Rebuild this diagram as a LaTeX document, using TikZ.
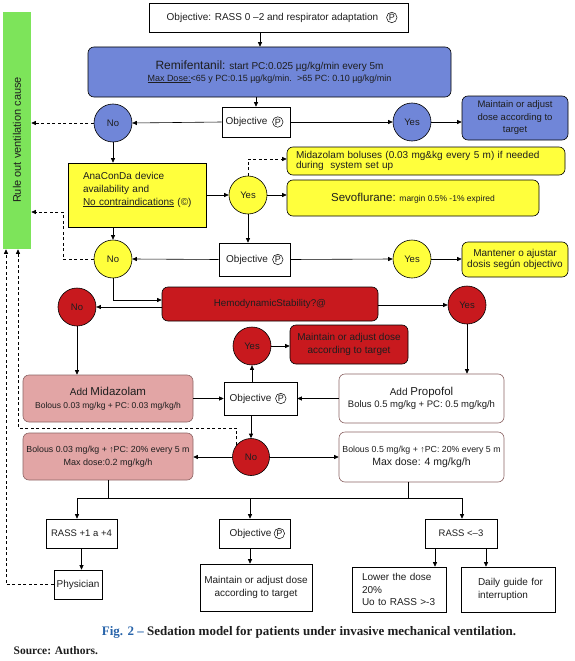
\documentclass[tikz,border=0pt]{standalone}
\usepackage{fontspec}
\usepackage{graphicx}
\setmainfont{Liberation Sans}
\newfontfamily\capfont{Liberation Serif}
\usetikzlibrary{arrows.meta,calc}
\definecolor{bluef}{RGB}{112,134,216}
\definecolor{yellowf}{RGB}{255,255,60}
\definecolor{redf}{RGB}{200,25,30}
\definecolor{pinkf}{RGB}{226,165,165}
\definecolor{greenf}{RGB}{125,228,90}
\definecolor{pinkbd}{RGB}{140,100,100}
\definecolor{figblue}{RGB}{40,100,170}
\definecolor{txt}{RGB}{30,30,30}
\begin{document}
\begin{tikzpicture}[x=1pt,y=-1pt,
 >={Triangle[length=4.5pt,width=4pt]},
 line width=0.6pt,
 arr/.style={->},
 dsh/.style={->,dash pattern=on 3pt off 2.5pt},
 bx/.style={draw=black, line width=0.6pt, inner sep=0pt, text=txt, font=\fontsize{10}{12.5}\selectfont, align=center},
 rbx/.style={bx, rounded corners=6pt},
 cir/.style={circle, draw=black, line width=0.6pt, minimum size=38pt, inner sep=0pt, font=\fontsize{9.5}{11}\selectfont, text=txt},
 pc/.style={circle, draw=black, line width=0.5pt, inner sep=0pt, minimum size=10.5pt, font=\fontsize{9}{9}\selectfont, text=txt}
]
\useasboundingbox (0,0) rectangle (575,661);

% top
\node[bx, fill=white, minimum width=259pt, minimum height=29pt] (top) at (278.5,17.5) {Objective: RASS 0 –2 and respirator adaptation\hspace{12pt}};
\node[pc] (p0) at ([xshift=-16.5pt]top.east) {P};

\node[rbx, fill=bluef, minimum width=363pt, minimum height=50pt] (remi) at (269.5,72)
 {{\fontsize{12}{14}\selectfont Remifentanil:} {\fontsize{10}{12}\selectfont start PC:0.025 µg/kg/min every 5m}\\[-1pt]
  {\fontsize{9}{10}\selectfont \underline{Max Dose:}<65 y PC:0.15 µg/kg/min.\ \ >65 PC: 0.10 µg/kg/min}};

\node[bx, fill=white, minimum width=68pt, minimum height=30pt] (obj1) at (256,122) {Objective\hspace{19pt}};
\node[pc] (p1) at ([xshift=-12.5pt]obj1.east) {P};

\node[cir, fill=bluef] (no1) at (113,123) {No};
\node[cir, fill=bluef] (yes1) at (412,122) {Yes};
\node[rbx, fill=bluef, minimum width=106pt, minimum height=44pt, font=\fontsize{9.5}{12.5}\selectfont] (m1) at (515,118) {Maintain or adjust\\dose according to\\target};

\node[fill=greenf, inner sep=0pt, minimum width=28pt, minimum height=237pt, text=txt, font=\fontsize{11}{13}\selectfont] (green) at (17,130.5) {\rotatebox{90}{Rule out ventilation cause\hspace{19pt}}};

% yellow part
\node[bx, fill=yellowf, minimum width=138pt, minimum height=64pt, text width=108pt, align=left, font=\fontsize{10}{13}\selectfont] (ana) at (137,195)
 {AnaConDa device\\availability and\\\mbox{\underline{No contraindications} (©)}\\\mbox{}};
\node[cir, fill=yellowf] (yes2) at (248,195) {Yes};
\node[rbx, fill=yellowf, minimum width=278pt, minimum height=28pt, text width=260pt, align=left, font=\fontsize{10}{10.5}\selectfont] (mida) at (426,161)
 {Midazolam boluses (0.03 mg\&kg every 5 m) if needed\\during\ \ system set up};
\node[rbx, fill=yellowf, minimum width=252pt, minimum height=36pt] (sevo) at (413,198)
 {{\fontsize{11.5}{14}\selectfont Sevoflurane:} {\fontsize{8.5}{10}\selectfont margin 0.5\% -1\% expired}};

\node[bx, fill=white, minimum width=71pt, minimum height=33pt] (obj2) at (254.5,259.5) {Objective\hspace{15pt}};
\node[pc] (p2) at ([xshift=-12.5pt]obj2.east) {P};
\node[cir, fill=yellowf] (no2) at (113,259) {No};
\node[cir, fill=yellowf] (yes3) at (412,259) {Yes};
\node[rbx, fill=yellowf, minimum width=106pt, minimum height=35pt, font=\fontsize{10}{11.5}\selectfont] (mant) at (515,259.5) {Mantener o ajustar\\dosis según objectivo};

% red part
\node[rbx, fill=redf, minimum width=216pt, minimum height=34pt, font=\fontsize{9.8}{11}\selectfont] (hemo) at (270,304) {HemodynamicStability?@};
\node[cir, fill=redf] (noR) at (77,307) {No};
\node[cir, fill=redf] (yesR) at (467,305) {Yes};

\node[rbx, fill=pinkf, draw=pinkbd, minimum width=170pt, minimum height=47pt] (addMid) at (108,398.5)
 {{\fontsize{10}{12}\selectfont Add }{\fontsize{11.5}{12}\selectfont Midazolam}\\{\fontsize{8.5}{10}\selectfont Bolous 0.03 mg/kg + PC: 0.03 mg/kg/h}};
\node[bx, fill=white, minimum width=73pt, minimum height=33pt] (obj3) at (260.5,398.5) {Objective\hspace{20pt}};
\node[pc] (p3) at ([xshift=-16.5pt]obj3.east) {P};
\node[cir, fill=redf] (yesR2) at (252,346) {Yes};
\node[rbx, fill=redf, minimum width=118pt, minimum height=39pt, font=\fontsize{10}{13}\selectfont] (maintR) at (349,344.5) {Maintain or adjust dose\\according to target};
\node[rbx, fill=white, draw=pinkbd, minimum width=165pt, minimum height=49pt] (addProp) at (421.5,398.5)
 {{\fontsize{10}{12}\selectfont Add }{\fontsize{11.5}{13}\selectfont Propofol}\\{\fontsize{9.5}{11}\selectfont Bolus 0.5 mg/kg + PC: 0.5 mg/kg/h}};

\node[cir, fill=redf, minimum size=37pt] (noR2) at (251,457) {No};
\node[rbx, fill=pinkf, draw=pinkbd, minimum width=170pt, minimum height=47pt] (mid2) at (108,456.5)
 {{\fontsize{8.8}{13}\selectfont Bolous 0.03 mg/kg + ↑PC: 20\% every 5 m}\\{\fontsize{9}{10}\selectfont Max dose:0.2 mg/kg/h}};
\node[rbx, fill=white, draw=pinkbd, minimum width=165pt, minimum height=50pt] (prop2) at (421.5,457)
 {{\fontsize{8.8}{12}\selectfont Bolous 0.5 mg/kg + ↑PC: 20\% every 5 m}\\{\fontsize{10.5}{12}\selectfont Max dose: 4 mg/kg/h}};

% bottom
\node[bx, fill=white, minimum width=71pt, minimum height=29pt, font=\fontsize{9.5}{11}\selectfont] (rass1) at (81.5,533.5) {RASS +1 a +4};
\node[bx, fill=white, minimum width=48pt, minimum height=29pt] (phys) at (78,584.5) {Physician};
\node[bx, fill=white, minimum width=71pt, minimum height=29pt] (obj4) at (254.5,533.5) {Objective\hspace{8pt}};
\node[pc] (p4) at ([xshift=-11pt]obj4.east) {P};
\node[bx, fill=white, minimum width=112pt, minimum height=47pt, font=\fontsize{10}{13}\selectfont] (maint4) at (256,587.5) {Maintain or adjust dose\\according to target};
\node[bx, fill=white, minimum width=72pt, minimum height=29pt, font=\fontsize{9.5}{11}\selectfont] (rass3) at (461,533.5) {RASS <–3};
\node[bx, fill=white, minimum width=94pt, minimum height=45pt, text width=74pt, align=left] (lower) at (399,589.5) {Lower the dose\\20\%\\Uo to RASS >-3};
\node[bx, fill=white, minimum width=94pt, minimum height=45pt, text width=60pt, align=left] (daily) at (508,589.5) {\mbox{Daily guide for}\\interruption};

% caption
\node[text=txt, font=\capfont\bfseries\fontsize{13}{15}\selectfont] (cap) at (309,632) {\textcolor{figblue}{Fig. 2 –} Sedation model for patients under invasive mechanical ventilation.};
\node[anchor=west, text=txt, font=\capfont\bfseries\fontsize{11.5}{13}\selectfont] (src) at (10,651) {Source: Authors.};

% connectors
\draw[arr] ([xshift=-18.5pt]top.south) -- ([xshift=-18.5pt]top.south |- remi.north);
\draw[arr] (obj1.north |- remi.south) -- (obj1.north);
\draw[arr] (obj1.west) -- (no1.east);
\draw[arr] (obj1.east) -- (yes1.west);
\draw[arr] (yes1.east) -- (yes1.east -| m1.west);
\draw[dsh] (no1.west) -- (no1.west -| green.east);
\draw[arr] (no1.south) -- (no1.south |- ana.north);
\draw[arr] (ana.east |- yes2) -- (yes2.west);
\draw[dsh] (yes2.north) |- ([yshift=2pt]mida.west);
\draw[arr] (yes2.east) -- (yes2.east -| sevo.west);
\draw[arr] (yes2.south) -- (yes2.south |- obj2.north);
\draw[arr] (no2.north |- ana.south) -- (no2.north);
\draw[arr] (obj2.west) -- (no2.east);
\draw[arr] (obj2.east) -- (yes3.west);
\draw[arr] (yes3.east) -- (yes3.east -| mant.west);
\coordinate (d1) at (63,212);
\draw[dsh] (no2.west) -| (d1) -- (d1 -| green.east);
\draw[arr] (no2.south) |- ([yshift=4pt]hemo.west);
\draw[arr] ([yshift=-3pt]hemo.west) -- (noR.east);
\draw[arr] (hemo.east |- yesR) -- (yesR.west);
\draw[arr] (noR.south) -- (noR.south |- addMid.north);
\draw[arr] (yesR.south) -- (yesR.south |- addProp.north);
\draw[arr] (addMid.east) -- (obj3.west);
\draw[arr] (addProp.west) -- (obj3.east);
\draw[arr] (obj3.north -| yesR2) -- (yesR2.south);
\draw[arr] (yesR2.east) -- (yesR2.east -| maintR.west);
\draw[arr] (obj3.south -| noR2) -- (noR2.north);
\draw[arr] (noR2.west) -- (noR2.west -| mid2.east);
\draw[arr] (noR2.east) -- (noR2.east -| prop2.west);
\coordinate (d2) at (18,428);
\draw[dsh] (noR2.140) |- (d2) -- (d2 |- green.south);
\coordinate (d3) at (6,584.5);
\draw[dsh] (phys.west) -- (d3) -- (d3 |- green.south);

\coordinate (hL) at (77,498);
\coordinate (hR) at (462,498);
\draw (hL) -- (hR);
\draw (mid2.south) -- (mid2.south |- hL);
\draw ([xshift=-13.5pt]prop2.south) -- ([xshift=-13.5pt]prop2.south |- hL);
\draw[arr] (hL) -- (hL |- rass1.north);
\draw[arr] ([xshift=-4.5pt]obj4.north |- hL) -- ([xshift=-4.5pt]obj4.north);
\draw[arr] (hR) -- (hR |- rass3.north);
\draw[arr] (rass1.south) -- (rass1.south |- phys.north);
\draw[arr] ([xshift=-4.5pt]obj4.south) -- ([xshift=-4.5pt]obj4.south |- maint4.north);
\draw[arr] ([xshift=-26pt]rass3.south) -- ([xshift=-26pt]rass3.south |- lower.north);
\draw[arr] ([xshift=25pt]rass3.south) -- ([xshift=25pt]rass3.south |- daily.north);
\end{tikzpicture}
\end{document}
